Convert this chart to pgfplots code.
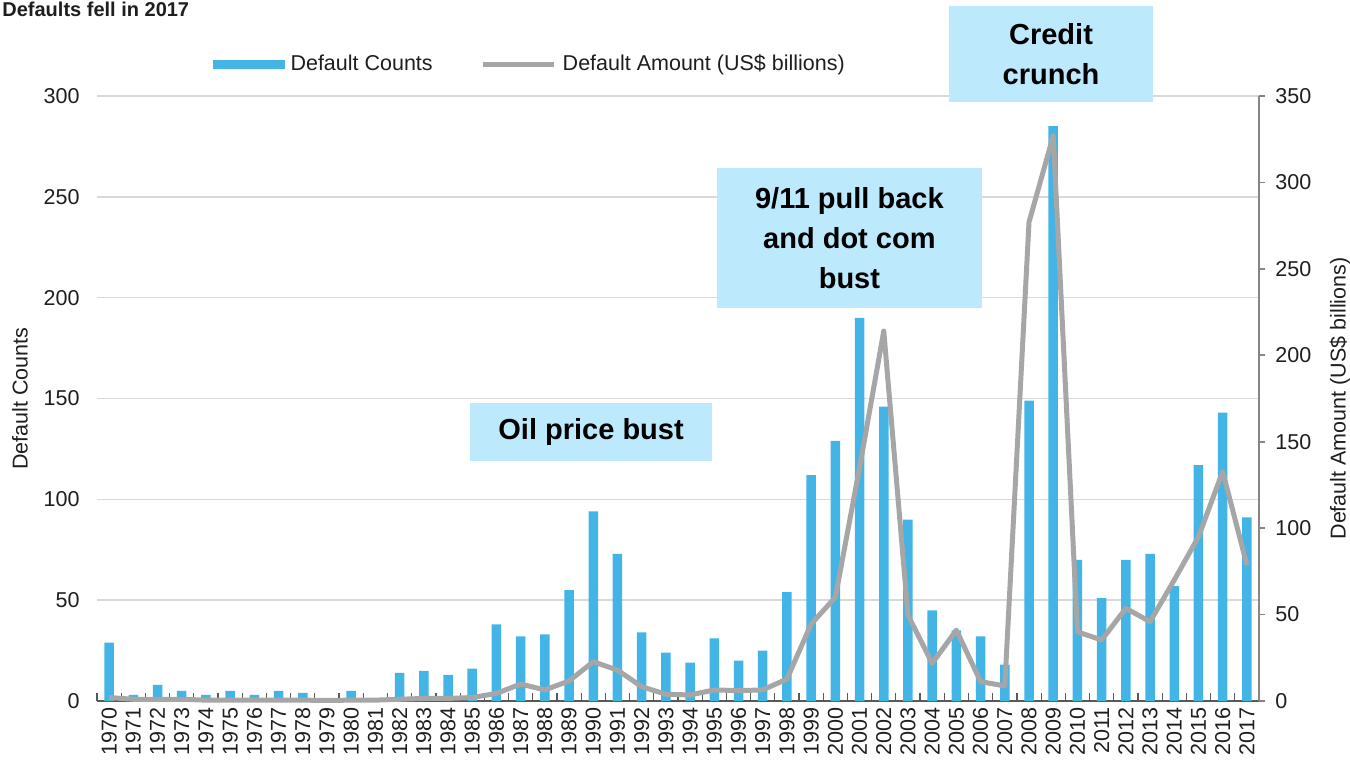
\documentclass[border=0pt]{standalone}
\usepackage{pgfplots}
\pgfplotsset{compat=1.18}
\usepackage{pgfplotstable}
\usepackage{fontspec}
\setmainfont{Liberation Sans}
\definecolor{barblue}{RGB}{66,180,230}
\definecolor{linegray}{RGB}{166,166,166}
\definecolor{boxblue}{RGB}{189,233,252}
\definecolor{gridgray}{RGB}{217,217,217}
\definecolor{axisdark}{RGB}{89,89,89}
\definecolor{axisgray}{RGB}{134,134,134}
\definecolor{txt}{RGB}{30,30,30}
\newcommand\tickfont{\fontsize{10.75}{12}\selectfont}
\newcommand\boxfont{\fontsize{14.5}{20}\selectfont\bfseries}

\pgfplotstableread{
year count amount
1970 29 2
1971 3 1
1972 8 1
1973 5 1
1974 3 0.5
1975 5 0.5
1976 3 0.5
1977 5 0.5
1978 4 0.5
1979 0 0.3
1980 5 0.5
1981 1 0.5
1982 14 1
1983 15 1.5
1984 13 1.5
1985 16 2
1986 38 4.4
1987 32 9.8
1988 33 6.4
1989 55 11.6
1990 94 22.7
1991 73 17.9
1992 34 8.3
1993 24 3.9
1994 19 3.5
1995 31 6.4
1996 20 6
1997 25 6.4
1998 54 12.7
1999 112 44.5
2000 129 60
2001 190 135
2002 146 214
2003 90 49.7
2004 45 21.8
2005 35 41
2006 32 11.2
2007 18 8.7
2008 149 277
2009 285 327
2010 70 40
2011 51 35.3
2012 70 53.6
2013 73 45.9
2014 57 70
2015 117 95
2016 143 132.7
2017 91 78.7
}\datatable

\begin{document}
\begin{tikzpicture}
\begin{axis}[
  at={(48.5pt,33pt)}, anchor=south west,
  scale only axis, width=581pt, height=302.5pt,
  xmin=1969.5, xmax=2017.5, ymin=0, ymax=300,
  enlargelimits=false,
  axis x line*=bottom, axis y line*=left,
  x axis line style={-, draw=axisdark, line width=0.6pt},
  y axis line style={draw=none},
  xtick={1970,1971,...,2017},
  minor xtick={1969.5,1970.5,...,2017.5},
  major tick length=0pt, minor tick length=4pt,
  tick style={draw=axisdark, line width=0.6pt},
  ytick={0,50,...,300},
  ymajorgrids, grid style={gridgray, line width=0.8pt},
  tick label style={font=\tickfont, text=txt, /pgf/number format/assume math mode=true},
  xticklabel style={rotate=90, anchor=east, inner sep=3pt, /pgf/number format/1000 sep={}},
  yticklabel style={anchor=east, inner sep=0pt, xshift=-8.5pt},
  ylabel={Default Counts},
  ylabel style={at={(axis description cs:-0.0663,0.5)}, anchor=center, font=\tickfont, text=txt},
  clip=false,
]
\addplot[ybar, bar width=4.75pt, fill=barblue, draw=none] table[x=year,y=count]{\datatable};
\end{axis}
\begin{axis}[
  at={(48.5pt,33pt)}, anchor=south west,
  scale only axis, width=581pt, height=302.5pt,
  xmin=1969.5, xmax=2017.5, ymin=0, ymax=350,
  enlargelimits=false,
  hide x axis,
  axis y line*=right,
  y axis line style={-, draw=axisgray, line width=0.8pt},
  ytick={0,50,...,350},
  tick align=outside, major tick length=3pt,
  ytick style={draw=axisgray, line width=0.8pt},
  yticklabel style={anchor=west, inner sep=0pt, xshift=5pt, font=\tickfont, text=txt, /pgf/number format/assume math mode=true},
  ylabel={Default Amount (US\$ billions)},
  ylabel style={at={(axis description cs:1.0697,0.5)}, anchor=center, font=\tickfont, text=txt},
  clip=false,
  legend columns=2,
  legend cell align=left,
  legend style={at={(0.0996,1.0529)}, anchor=west, draw=none, fill=none, inner sep=0pt, outer sep=0pt,
    font=\tickfont, text=txt,
    nodes={inner sep=0pt},
    /tikz/every odd column/.append style={column sep=3pt},
    /tikz/every even column/.append style={column sep=24pt}},
]
\addlegendimage{legend image code/.code={\fill[barblue] (0pt,-2pt) rectangle (35.5pt,2pt);}}
\addlegendentry{Default Counts}
\addlegendimage{legend image code/.code={\draw[linegray,line width=2.5pt] (0pt,0pt) -- (35.5pt,0pt);}}
\addlegendentry{Default Amount (US\$ billions)}
\addplot[linegray, line width=2.5pt, line join=round] table[x=year,y=amount]{\datatable};
\node[fill=boxblue, minimum width=121pt, minimum height=29pt, inner sep=0pt, font=\boxfont, align=center]
  at (axis cs:1989.91,155.6) {Oil price bust};
\node[fill=boxblue, minimum width=132.5pt, minimum height=70pt, inner sep=0pt, font=\boxfont, align=center]
  at (axis cs:2000.58,267.9) {9/11 pull back\\and dot com\\bust};
\node[fill=boxblue, minimum width=102pt, minimum height=48pt, inner sep=0pt, font=\boxfont, align=center]
  at (axis cs:2008.91,374.3) {Credit\\crunch};
\end{axis}
\node[anchor=base west, font=\bfseries\fontsize{10}{12}\selectfont, text=txt, inner sep=0pt] at (1pt,375pt) {Defaults fell in 2017};
\pgfresetboundingbox
\useasboundingbox (0,0) rectangle (675pt,383.5pt);
\end{tikzpicture}
\end{document}
